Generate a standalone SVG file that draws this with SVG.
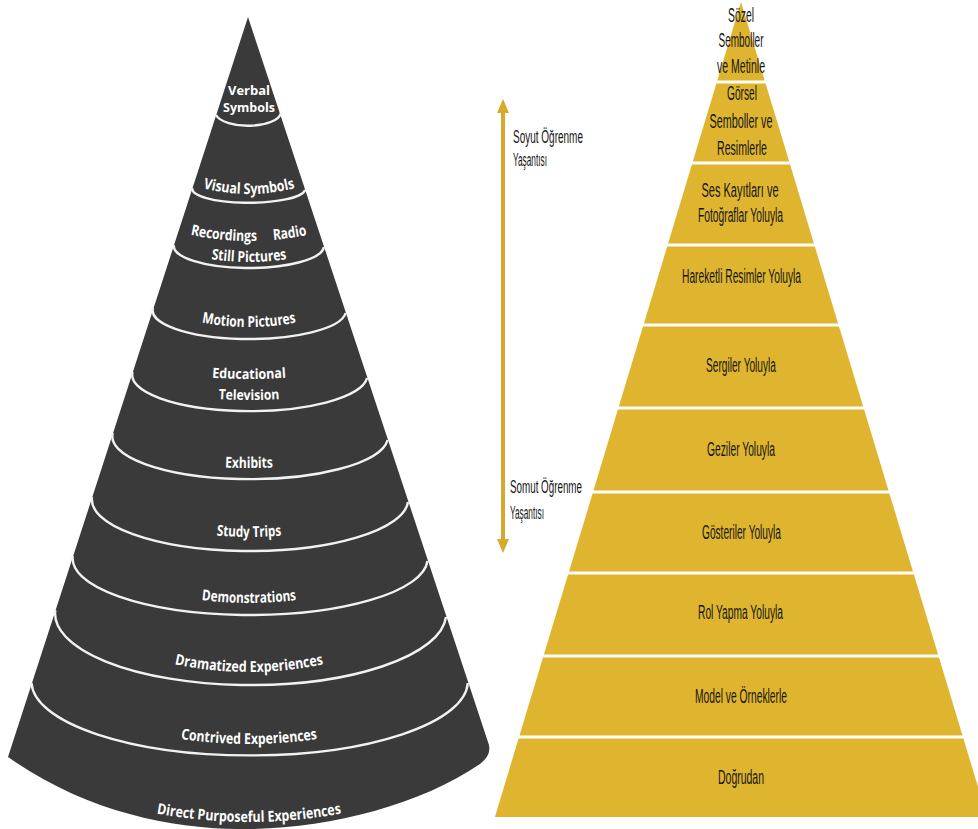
<svg xmlns="http://www.w3.org/2000/svg" width="978" height="829" viewBox="0 0 978 829">
<style>
.cone-body{fill:#3a3a3a}
.bl{fill:none;stroke:#f2f2f2;stroke-width:2.4}
.cl{font-family:"Open Sans","DejaVu Sans",sans-serif;font-weight:700;font-size:15px;fill:#ffffff;text-anchor:middle}
.cs{font-size:14px}
.cxs{font-size:13px}
.band{fill:#DFB52F}
.pl{font-family:"Liberation Sans",Arial,sans-serif;font-size:20.5px;fill:#151515;text-anchor:middle}
.side{font-family:"Liberation Sans",Arial,sans-serif;font-size:17.5px;fill:#151515}
.conn{stroke:#D6A92A;stroke-width:4;fill:none}
</style>
<defs>
<marker id="ah" viewBox="0 0 14 14" refX="2" refY="7" markerWidth="14" markerHeight="14" markerUnits="userSpaceOnUse" orient="auto-start-reverse">
<path d="M0,1 L14,7 L0,13 Z" fill="#D6A92A"/>
</marker>
<path id="p-visual" d="M177,179.6 Q249,208.4 321,179.6"/>
<path id="p-rec" d="M159,226.4 Q249,255.6 339,226.4"/>
<path id="p-still" d="M186,254.1 Q249,269.9 312,254.1"/>
<path id="p-motion" d="M177,316.6 Q249,337.4 321,316.6"/>
<path id="p-edu" d="M187,375.2 Q249,382.8 311,375.2"/>
<path id="p-tv" d="M194,397 Q249,403 304,397"/>
<path id="p-exh" d="M199,465.5 Q249,470.5 299,465.5"/>
<path id="p-study" d="M191,532 Q249,542 307,532"/>
<path id="p-demo" d="M177,596.3 Q249,609.7 321,596.3"/>
<path id="p-drama" d="M149,658 Q249,686 349,658"/>
<path id="p-contr" d="M155,734.3 Q249,753.7 343,734.3"/>
<path id="p-direct" d="M131,808.1 Q249,835.9 367,808.1"/>
</defs>
<rect width="978" height="829" fill="#ffffff"/>

<!-- Left: cone -->
<g id="cone">
<path class="cone-body" d="M248,17 L8,757 C90,815 180,830 250,829 C330,828 420,805 480,764 Q493,754 488,742 Z"/>
</g>
<g id="cone-verbal">
<text class="cl cxs" x="249" y="95" textLength="42" lengthAdjust="spacingAndGlyphs">Verbal</text>
<text class="cl cxs" x="249" y="112" textLength="52" lengthAdjust="spacingAndGlyphs">Symbols</text>
<path class="bl" d="M216,115 A33 14 0 0 0 281,113"/>
</g>
<g id="cone-visual">
<text class="cl"><textPath href="#p-visual" startOffset="50%" textLength="93" lengthAdjust="spacingAndGlyphs">Visual Symbols</textPath></text>
<path class="bl" d="M192.4,188 A56.5 14 0 0 0 305.1,190"/>
</g>
<g id="cone-recordings">
<text class="cl"><textPath href="#p-rec" startOffset="66" textLength="67" lengthAdjust="spacingAndGlyphs">Recordings</textPath></text>
<text class="cl"><textPath href="#p-rec" startOffset="133" textLength="34" lengthAdjust="spacingAndGlyphs">Radio</textPath></text>
<text class="cl"><textPath href="#p-still" startOffset="50%" textLength="76" lengthAdjust="spacingAndGlyphs">Still Pictures</textPath></text>
<path class="bl" d="M173.9,245 A75 22 0 0 0 323.9,247"/>
</g>
<g id="cone-motion">
<text class="cl"><textPath href="#p-motion" startOffset="50%" textLength="95" lengthAdjust="spacingAndGlyphs">Motion Pictures</textPath></text>
<path class="bl" d="M153,308 A96.5 28.5 0 0 0 345.7,313"/>
</g>
<g id="cone-tv">
<text class="cl cs"><textPath href="#p-edu" startOffset="50%" textLength="74" lengthAdjust="spacingAndGlyphs">Educational</textPath></text>
<text class="cl cs"><textPath href="#p-tv" startOffset="50%" textLength="61" lengthAdjust="spacingAndGlyphs">Television</textPath></text>
<path class="bl" d="M132.6,372 A117.3 36 0 0 0 367.1,378"/>
</g>
<g id="cone-exhibits">
<text class="cl"><textPath href="#p-exh" startOffset="50%" textLength="48" lengthAdjust="spacingAndGlyphs">Exhibits</textPath></text>
<path class="bl" d="M112.8,433 A137.4 42.5 0 0 0 387.6,440"/>
</g>
<g id="cone-study">
<text class="cl"><textPath href="#p-study" startOffset="50%" textLength="65" lengthAdjust="spacingAndGlyphs">Study Trips</textPath></text>
<path class="bl" d="M92,497 A158 51.5 0 0 0 408,502"/>
</g>
<g id="cone-demo">
<text class="cl"><textPath href="#p-demo" startOffset="50%" textLength="95" lengthAdjust="spacingAndGlyphs">Demonstrations</textPath></text>
<path class="bl" d="M72.8,556 A177.4 56.5 0 0 0 427.5,561"/>
</g>
<g id="cone-drama">
<text class="cl"><textPath href="#p-drama" startOffset="50%" textLength="150" lengthAdjust="spacingAndGlyphs">Dramatized Experiences</textPath></text>
<path class="bl" d="M55.3,610 A195.4 71.5 0 0 0 446,617"/>
</g>
<g id="cone-contrived">
<text class="cl"><textPath href="#p-contr" startOffset="50%" textLength="137" lengthAdjust="spacingAndGlyphs">Contrived Experiences</textPath></text>
<path class="bl" d="M31.5,683 A218.2 74 0 0 0 467.8,683"/>
</g>
<g id="cone-direct">
<text class="cl"><textPath href="#p-direct" startOffset="50%" textLength="186" lengthAdjust="spacingAndGlyphs">Direct  Purposeful Experiences</textPath></text>
</g>

<!-- Connector: double arrow -->
<g id="connectors">
<path class="conn" d="M503,111 L503,541" marker-start="url(#ah)" marker-end="url(#ah)"/>
</g>
<g id="label-soyut">
<text class="side" x="513" y="143" textLength="70" lengthAdjust="spacingAndGlyphs">Soyut Öğrenme</text>
<text class="side" x="513" y="166" textLength="34" lengthAdjust="spacingAndGlyphs">Yaşantısı</text>
</g>
<g id="label-somut">
<text class="side" x="510" y="493" textLength="72" lengthAdjust="spacingAndGlyphs">Somut Öğrenme</text>
<text class="side" x="510" y="519" textLength="34" lengthAdjust="spacingAndGlyphs">Yaşantısı</text>
</g>

<!-- Right: pyramid -->
<g id="pyr-1">
<polygon class="band" points="741,2 764.7,80.5 717.3,80.5"/>
<text class="pl" x="741" y="22" textLength="26" lengthAdjust="spacingAndGlyphs">Sözel</text>
<text class="pl" x="741" y="47" textLength="45" lengthAdjust="spacingAndGlyphs">Semboller</text>
<text class="pl" x="741" y="73" textLength="48" lengthAdjust="spacingAndGlyphs">ve Metinle</text>
</g>
<g id="pyr-2">
<polygon class="band" points="716.4,83.5 765.6,83.5 789.2,161.5 692.8,161.5"/>
<text class="pl" x="742" y="100" textLength="30" lengthAdjust="spacingAndGlyphs">Görsel</text>
<text class="pl" x="741" y="128" textLength="63" lengthAdjust="spacingAndGlyphs">Semboller ve</text>
<text class="pl" x="742" y="155" textLength="50" lengthAdjust="spacingAndGlyphs">Resimlerle</text>
</g>
<g id="pyr-3">
<polygon class="band" points="691.9,164.5 790.1,164.5 813.9,243.5 668.1,243.5"/>
<text class="pl" x="740" y="197" textLength="77" lengthAdjust="spacingAndGlyphs">Ses Kayıtları ve</text>
<text class="pl" x="740.5" y="222" textLength="85" lengthAdjust="spacingAndGlyphs">Fotoğraflar Yoluyla</text>
</g>
<g id="pyr-4">
<polygon class="band" points="667.2,246.5 814.8,246.5 838.1,323.5 643.9,323.5"/>
<text class="pl" x="741.5" y="283" textLength="119" lengthAdjust="spacingAndGlyphs">Hareketli Resimler Yoluyla</text>
</g>
<g id="pyr-5">
<polygon class="band" points="643,326.5 839,326.5 863.2,406.5 618.8,406.5"/>
<text class="pl" x="741" y="372" textLength="70" lengthAdjust="spacingAndGlyphs">Sergiler Yoluyla</text>
</g>
<g id="pyr-6">
<polygon class="band" points="617.9,409.5 864.1,409.5 888.5,490.5 593.5,490.5"/>
<text class="pl" x="741" y="456" textLength="68" lengthAdjust="spacingAndGlyphs">Geziler Yoluyla</text>
</g>
<g id="pyr-7">
<polygon class="band" points="592.6,493.5 889.4,493.5 913,571.5 569,571.5"/>
<text class="pl" x="741.5" y="539" textLength="79" lengthAdjust="spacingAndGlyphs">Gösteriler Yoluyla</text>
</g>
<g id="pyr-8">
<polygon class="band" points="568.1,574.5 913.9,574.5 938.1,654.5 543.9,654.5"/>
<text class="pl" x="740.5" y="619" textLength="85" lengthAdjust="spacingAndGlyphs">Rol Yapma Yoluyla</text>
</g>
<g id="pyr-9">
<polygon class="band" points="543,657.5 939,657.5 962.5,735.5 519.5,735.5"/>
<text class="pl" x="741" y="703" textLength="92" lengthAdjust="spacingAndGlyphs">Model ve Örneklerle</text>
</g>
<g id="pyr-10">
<polygon class="band" points="518.6,738.5 963.4,738.5 987.1,817 494.9,817"/>
<text class="pl" x="741" y="784" textLength="46" lengthAdjust="spacingAndGlyphs">Doğrudan</text>
</g>
</svg>
